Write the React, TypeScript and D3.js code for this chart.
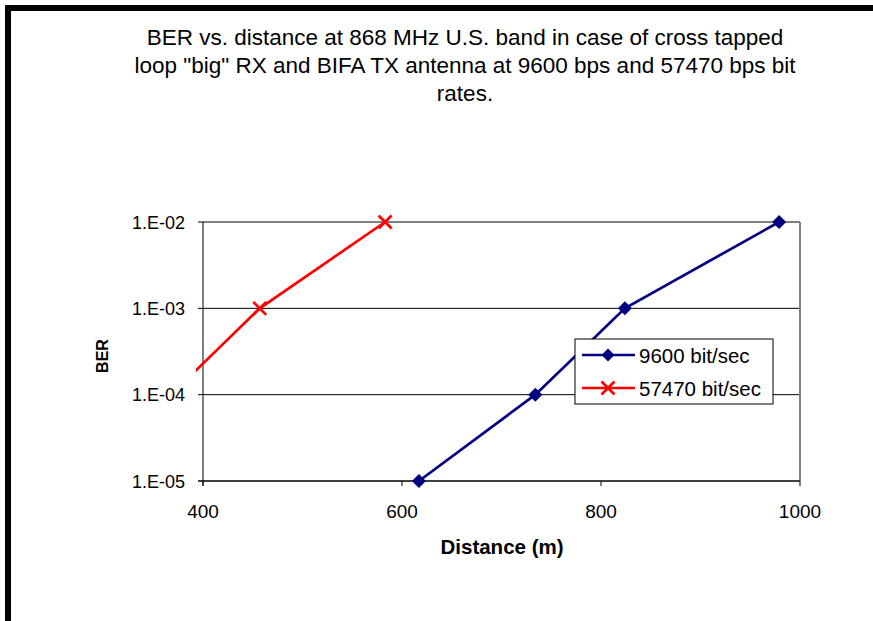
import React from "react";
import * as d3 from "d3";

const titleLines = [
  "BER vs. distance at 868 MHz U.S. band in case of cross tapped",
  "loop \"big\" RX and BIFA TX antenna at 9600 bps and 57470 bps bit",
  "rates.",
];
const xTicks = [400, 600, 800, 1000];
const yTicks = [1e-5, 1e-4, 1e-3, 1e-2];
const yTickLabels = ["1.E-05", "1.E-04", "1.E-03", "1.E-02"];
const seriesNames = ["9600 bit/sec", "57470 bit/sec"];
const dist9600 = [617, 734, 824, 979];
const ber9600 = [1e-5, 1e-4, 1e-3, 1e-2];
const dist57470 = [368, 457, 583];
const ber57470 = [1e-4, 1e-3, 1e-2];

const FONT = "'Liberation Sans', Arial, sans-serif";

export default function App() {
  const x = d3.scaleLinear().domain([400, 1000]).range([203, 800]);
  const y = d3.scaleLog().domain([1e-5, 1e-2]).range([481, 222]);
  const line = d3
    .line<[number, number]>()
    .x((d) => x(d[0]))
    .y((d) => y(d[1]));
  const blue: [number, number][] = dist9600.map((d, i) => [d, ber9600[i]]);
  const red: [number, number][] = dist57470.map((d, i) => [d, ber57470[i]]);
  const x0 = x(400);
  const x1 = x(1000);
  const yTop = y(1e-2);
  const yBot = y(1e-5);
  const diamond = (cx: number, cy: number, r: number) =>
    `M${cx},${cy - r}L${cx + r},${cy}L${cx},${cy + r}L${cx - r},${cy}Z`;
  const cross = (cx: number, cy: number, r: number) =>
    `M${cx - r},${cy - r}L${cx + r},${cy + r}M${cx - r},${cy + r}L${cx + r},${cy - r}`;
  const navy = "#000080";
  const red_ = "#FF0000";
  return (
    <svg
      width={873}
      height={621}
      style={{ position: "absolute", left: 0, top: 0, background: "#fff" }}
      fontFamily={FONT}
    >
      <rect x={0} y={0} width={873} height={621} fill="#fff" />
      <rect x={8} y={8} width={900} height={700} fill="none" stroke="#000" strokeWidth={6} />
      {titleLines.map((t, i) => (
        <text key={i} x={465} y={45 + i * 28} textAnchor="middle" fontSize={22.5} fill="#000">
          {t}
        </text>
      ))}
      <defs>
        <clipPath id="plotclip">
          <rect x={x0 - 7} y={yTop - 10} width={x1 - x0 + 20} height={yBot - yTop + 20} />
        </clipPath>
      </defs>
      {/* gridlines */}
      {yTicks.map((t, i) => (
        <line
          key={i}
          x1={x0}
          x2={x1}
          y1={y(t)}
          y2={y(t)}
          stroke={t === 1e-2 ? "#808080" : "#000"}
          strokeWidth={t === 1e-2 ? 2 : 1}
        />
      ))}
      <line x1={x1} x2={x1} y1={yTop} y2={yBot} stroke="#808080" strokeWidth={2} />
      {/* axes */}
      <line x1={x0} x2={x0} y1={yTop} y2={yBot + 5} stroke="#000" strokeWidth={1} />
      <line x1={x0 - 5} x2={x1} y1={yBot} y2={yBot} stroke="#000" strokeWidth={1} />
      {yTicks.map((t, i) => (
        <g key={i}>
          <line x1={x0 - 5} x2={x0} y1={y(t)} y2={y(t)} stroke="#000" />
          <text x={x0 - 18} y={y(t) + 6.5} textAnchor="end" fontSize={18} fill="#000">
            {yTickLabels[i]}
          </text>
        </g>
      ))}
      {xTicks.map((t, i) => (
        <g key={i}>
          <line x1={x(t)} x2={x(t)} y1={yBot} y2={yBot + 5} stroke="#000" />
          <text x={x(t)} y={yBot + 37} textAnchor="middle" fontSize={19} fill="#000">
            {t}
          </text>
        </g>
      ))}
      <text x={502} y={554} textAnchor="middle" fontSize={20.5} fontWeight="bold" fill="#000">
        Distance (m)
      </text>
      <text
        transform={`translate(108,356) rotate(-90)`}
        textAnchor="middle"
        fontSize={16}
        fontWeight="bold"
        fill="#000"
      >
        BER
      </text>
      {/* series */}
      <g clipPath="url(#plotclip)">
        <path d={line(blue) || ""} fill="none" stroke={navy} strokeWidth={2.7} />
        <path d={line(red) || ""} fill="none" stroke={red_} strokeWidth={2.7} />
      </g>
      {blue.map((d, i) => (
        <path key={i} d={diamond(x(d[0]), y(d[1]), 7)} fill={navy} />
      ))}
      {red
        .filter((d) => d[0] >= 400)
        .map((d, i) => (
          <path key={i} d={cross(x(d[0]), y(d[1]), 6.5)} stroke={red_} strokeWidth={2.7} fill="none" />
        ))}
      {/* legend */}
      <rect x={575} y={339} width={198} height={65} fill="#fff" stroke="#000" strokeWidth={1} />
      <line x1={582} x2={635} y1={355} y2={355} stroke={navy} strokeWidth={2.7} />
      <path d={diamond(608, 355, 6.5)} fill={navy} />
      <text x={639} y={363} fontSize={20.5} fill="#000">
        {seriesNames[0]}
      </text>
      <line x1={582} x2={635} y1={388} y2={388} stroke={red_} strokeWidth={2.7} />
      <path d={cross(608, 388, 6.5)} stroke={red_} strokeWidth={2.7} fill="none" />
      <text x={639} y={396} fontSize={20.5} fill="#000">
        {seriesNames[1]}
      </text>
    </svg>
  );
}
